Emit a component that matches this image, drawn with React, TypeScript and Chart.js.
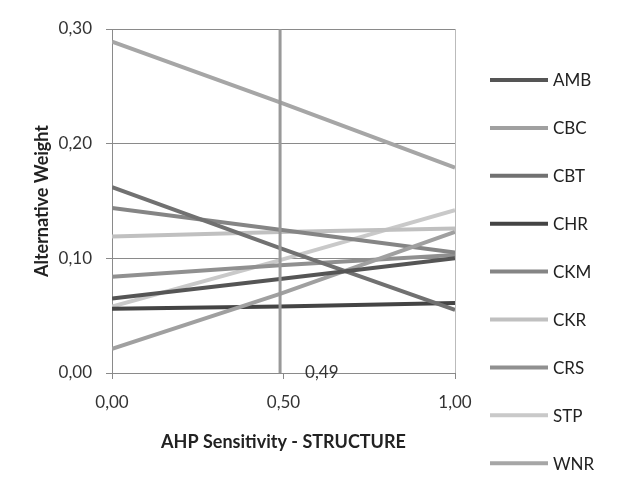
import React, { useEffect, useRef } from "react";
import { Chart, registerables } from "chart.js";

Chart.register(...registerables);

const xValues = [0, 0.49, 1];
const seriesNames = ["AMB", "CBC", "CBT", "CHR", "CKM", "CKR", "CRS", "STP", "WNR"];
const seriesColors = ["#555555", "#a0a0a0", "#717171", "#444444", "#858585", "#c0c0c0", "#909090", "#c9c9c9", "#a6a6a6"];
const amb = [0.065, 0.082, 0.1];
const cbc = [0.021, 0.069, 0.123];
const cbt = [0.162, 0.109, 0.055];
const chr = [0.056, 0.058, 0.061];
const ckm = [0.144, 0.125, 0.105];
const ckr = [0.119, 0.123, 0.126];
const crs = [0.084, 0.094, 0.103];
const stp = [0.058, 0.0985, 0.142];
const wnr = [0.289, 0.236, 0.179];
const seriesValues = [amb, cbc, cbt, chr, ckm, ckr, crs, stp, wnr];
const markerValue = 0.49;
const markerLabel = "0,49";
const xTitle = "AHP Sensitivity - STRUCTURE";
const yTitle = "Alternative Weight";

const FONT = "Lato, 'Open Sans', sans-serif";
const fmt = (v: number) => Number(v).toFixed(2).replace(".", ",");

const markerPlugin = {
  id: "marker",
  afterDatasetsDraw(chart: any) {
    const { ctx, chartArea, scales } = chart;
    const x = scales.x.getPixelForValue(markerValue);
    ctx.save();
    ctx.strokeStyle = "#999999";
    ctx.lineWidth = 3;
    ctx.beginPath();
    ctx.moveTo(x, chartArea.top);
    ctx.lineTo(x, chartArea.bottom);
    ctx.stroke();
    ctx.fillStyle = "#333333";
    ctx.font = `17px ${FONT}`;
    ctx.textAlign = "left";
    ctx.textBaseline = "middle";
    ctx.fillText(markerLabel, x + 25, chartArea.bottom);
    ctx.restore();
  },
};

const legendPlugin = {
  id: "customLegend",
  afterDraw(chart: any) {
    const { ctx } = chart;
    const x0 = 490;
    const y0 = 80;
    const step = 47.9;
    ctx.save();
    chart.data.datasets.forEach((ds: any, i: number) => {
      const y = y0 + i * step;
      ctx.strokeStyle = ds.borderColor;
      ctx.lineWidth = 4;
      ctx.beginPath();
      ctx.moveTo(x0, y);
      ctx.lineTo(x0 + 58, y);
      ctx.stroke();
      ctx.fillStyle = "#222222";
      ctx.font = `17px ${FONT}`;
      ctx.textAlign = "left";
      ctx.textBaseline = "middle";
      ctx.fillText(ds.label, x0 + 63, y + 1);
    });
    ctx.restore();
  },
};

export default function App() {
  const ref = useRef<HTMLCanvasElement>(null);
  useEffect(() => {
    document.body.style.margin = "0";
    const chart = new Chart(ref.current!, {
      type: "line",
      data: {
        datasets: seriesNames.map((name, i) => ({
          label: name,
          data: xValues.map((x, j) => ({ x, y: seriesValues[i][j] })),
          borderColor: seriesColors[i],
          backgroundColor: seriesColors[i],
          borderWidth: 4,
          pointRadius: 0,
          tension: 0,
        })),
      },
      options: {
        animation: false,
        responsive: false,
        layout: { padding: { top: 29, right: 164, left: 0, bottom: 0 } },
        plugins: { legend: { display: false }, tooltip: { enabled: false } },
        scales: {
          x: {
            type: "linear",
            min: 0,
            max: 1,
            ticks: {
              stepSize: 0.5,
              callback: (v: any) => fmt(v),
              font: { family: FONT, size: 17 },
              color: "#333333",
              padding: 13,
              maxRotation: 0,
            },
            grid: {
              color: (c: any) => (c.tick && c.tick.value === 1 ? "#bbbbbb" : "rgba(0,0,0,0)"),
              tickColor: "#888888",
              tickLength: 6,
              lineWidth: 1,
            },
            border: { display: false },
            title: {
              display: true,
              text: xTitle,
              font: { family: FONT, size: 18, weight: "bold" },
              color: "#222222",
              padding: { top: 0, bottom: 39 },
            },
            afterFit: (s: any) => {
              s.height = 492 - 373;
            },
          },
          y: {
            min: 0,
            max: 0.3,
            ticks: {
              stepSize: 0.1,
              callback: (v: any) => fmt(v),
              font: { family: FONT, size: 17 },
              color: "#333333",
              padding: 14,
            },
            grid: { color: "#8a8a8a", tickColor: "#8a8a8a", tickLength: 6, lineWidth: 1 },
            border: { display: true, color: "#8a8a8a", width: 1 },
            title: {
              display: true,
              text: yTitle,
              font: { family: FONT, size: 18, weight: "bold" },
              color: "#222222",
              padding: { top: 31, bottom: 0 },
            },
            afterFit: (s: any) => {
              s.width = 112;
            },
          },
        },
      },
      plugins: [markerPlugin, legendPlugin],
    } as any);
    return () => chart.destroy();
  }, []);
  return <canvas ref={ref} width={619} height={492} style={{ display: "block" }} />;
}
